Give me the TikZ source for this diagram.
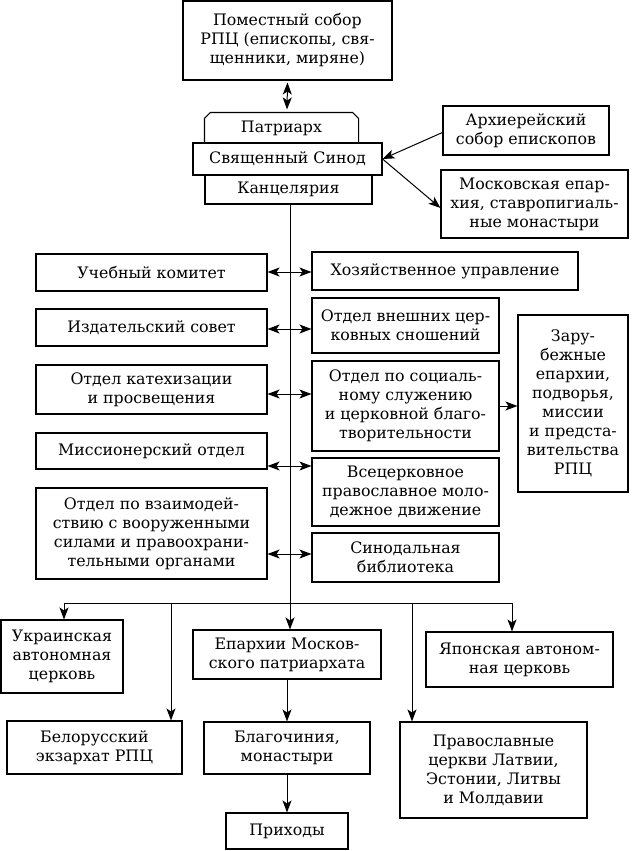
\documentclass[tikz,border=0pt]{standalone}
\usepackage{fontspec}
\setmainfont{DejaVu Serif}
\usetikzlibrary{arrows.meta}
\begin{document}
\begin{tikzpicture}[x=1pt,y=-1pt,
  box/.style={draw,line width=1.1pt,inner sep=0pt,align=center,font=\fontsize{15.8}{19}\selectfont},
  con/.style={line width=1pt},
  tip/.style={-{Stealth[length=12pt,width=9pt,inset=3pt]}},
  dtip/.style={{Stealth[length=12pt,width=9pt,inset=3pt]}-{Stealth[length=12pt,width=9pt,inset=3pt]}}]
\useasboundingbox (0,0) rectangle (632,851);
\node[box,minimum width=209pt,minimum height=79pt] (top) at (287.5,40.5) {Поместный собор\\РПЦ (епископы, свя-\\щенники, миряне)};
\node[box,draw=none,minimum width=153pt,minimum height=30pt] (P) at (281.5,128) {Патриарх};
\draw[line width=1.1pt] (P.south west) -- ([yshift=-6pt]P.north west) -- ([xshift=6pt]P.north west) -- ([xshift=-6pt]P.north east) -- ([yshift=-6pt]P.north east) -- (P.south east);
\node[box,fill=white,minimum width=189pt,minimum height=32pt] (S) at (287.5,159) {Священный Синод};
\node[box,minimum width=167pt,minimum height=29pt] (K) at (288.5,189.5) {Канцелярия};
\node[box,minimum width=166pt,minimum height=49pt] (Arch) at (526,130.5) {Архиерейский\\собор епископов};
\node[box,minimum width=187pt,minimum height=68pt] (Mosc) at (534.5,204) {Московская епар-\\хия, ставропигиаль-\\ные монастыри};
\node[box,minimum width=231pt,minimum height=37pt] (L1) at (151.5,272.5) {Учебный комитет};
\node[box,minimum width=231pt,minimum height=37pt] (L2) at (151.5,327.5) {Издательский совет};
\node[box,minimum width=231pt,minimum height=49pt] (L3) at (151.5,389.5) {Отдел катехизации\\и просвещения};
\node[box,minimum width=231pt,minimum height=36pt] (L4) at (151.5,451) {Миссионерский отдел};
\node[box,minimum width=231pt,minimum height=91pt] (L5) at (151.5,533.5) {Отдел по взаимодей-\\ствию с вооруженными\\силами и правоохрани-\\тельными органами};
\node[box,minimum width=266pt,minimum height=38pt] (R1) at (445,271) {Хозяйственное управление};
\node[box,minimum width=187pt,minimum height=55pt] (R2) at (405.5,325.5) {Отдел внешних цер-\\ковных сношений};
\node[box,minimum width=187pt,minimum height=90pt] (R3) at (405.5,406) {Отдел по социаль-\\ному служению\\и церковной благо-\\творительности};
\node[box,minimum width=187pt,minimum height=68pt] (R4) at (405.5,492) {Всецерковное\\православное моло-\\дежное движение};
\node[box,minimum width=187pt,minimum height=49pt] (R5) at (405.5,557.5) {Синодальная\\библиотека};
\node[box,minimum width=110pt,minimum height=177pt] (Z) at (573,403.5) {Зару-\\бежные\\епархии,\\подворья,\\миссии\\и предста-\\вительства\\РПЦ};
\node[box,minimum width=122pt,minimum height=73pt] (U) at (62,656.5) {Украинская\\автономная\\церковь};
\node[box,minimum width=175pt,minimum height=53pt] (B) at (94.5,747.5) {Белорусский\\экзархат РПЦ};
\node[box,minimum width=188pt,minimum height=49pt] (E) at (287,654.5) {Епархии Москов-\\ского патриархата};
\node[box,minimum width=166pt,minimum height=52pt] (Bl) at (287,748) {Благочиния,\\монастыри};
\node[box,minimum width=122pt,minimum height=36pt] (Pr) at (287,831) {Приходы};
\node[box,minimum width=187pt,minimum height=96pt] (O) at (493.5,770) {Православные\\церкви Латвии,\\Эстонии, Литвы\\и Молдавии};
\node[box,minimum width=187pt,minimum height=55pt] (J) at (519.5,659.5) {Японская автоном-\\ная церковь};
% coordinates
\coordinate (m) at (290,603);
\coordinate (hl) at (64,603);
\coordinate (hb) at (171,603);
\coordinate (ho) at (412,603);
\coordinate (hr) at (512,603);
\coordinate (a1) at (0,272);
\coordinate (a2) at (0,329);
\coordinate (a3) at (0,394);
\coordinate (a4) at (0,466);
\coordinate (a5) at (0,554);
% connectors
\draw[con,dtip] ([yshift=-2pt]top.south) -- ([yshift=3pt,xshift=5.5pt]P.north);
\draw[con,tip] ([yshift=-2pt]Arch.west) -- (S.east);
\draw[con,tip] (S.east) -- ([yshift=-4pt]Mosc.west);
\draw[con] (m |- K.south) -- (m);
\draw[con,tip] (m) -- (m |- E.north);
\draw[con] (hl) -- (hr);
\draw[con,tip] (hl) -- (hl |- U.north);
\draw[con,tip] (hb) -- (hb |- B.north);
\draw[con,tip] (ho) -- (ho |- O.north);
\draw[con,tip] (hr) -- (hr |- J.north);
\draw[con,tip] (E.south) -- (Bl.north);
\draw[con,tip] (Bl.south) -- (Pr.north);
\draw[con,dtip] (L1.east |- a1) -- (R1.west |- a1);
\draw[con,dtip] (L2.east |- a2) -- (R2.west |- a2);
\draw[con,dtip] (L3.east |- a3) -- (R3.west |- a3);
\draw[con,dtip] (L4.east |- a4) -- (R4.west |- a4);
\draw[con,dtip] (L5.east |- a5) -- (R5.west |- a5);
\draw[con,tip] (R3.east) -- (Z.west |- R3.east);
\end{tikzpicture}
\end{document}
